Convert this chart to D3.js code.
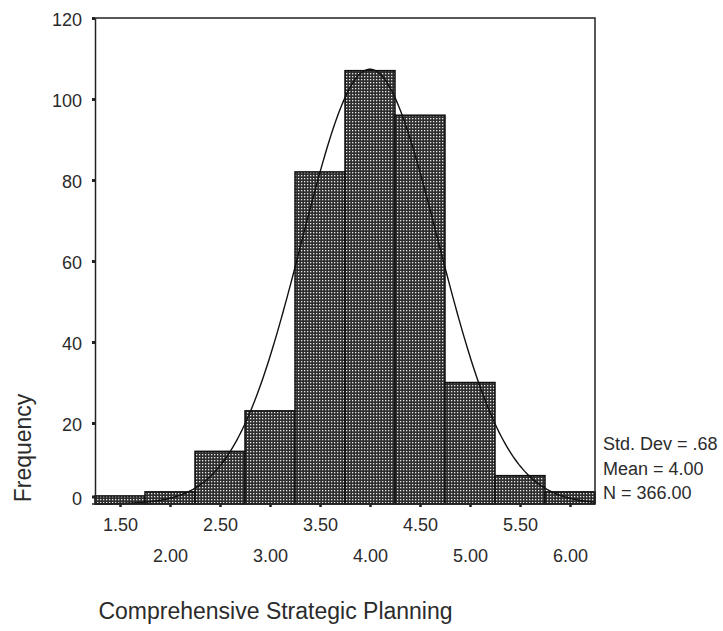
<!DOCTYPE html>
<html>
<head>
<meta charset="utf-8">
<script src="https://cdn.jsdelivr.net/npm/d3@7"></script>
<style>
  html, body { margin: 0; padding: 0; background: #fff; }
  svg { display: block; font-family: "Liberation Sans", Arial, sans-serif; }
</style>
</head>
<body>
<svg id="chart" width="723" height="631"></svg>
<script>
// Histogram bins (centre of each 0.5-wide bin) and their frequencies
const binCenters = [1.5, 2.0, 2.5, 3.0, 3.5, 4.0, 4.5, 5.0, 5.5, 6.0];
const frequencies = [2, 3, 13, 23, 82, 107, 96, 30, 7, 3];
const binWidth = 0.5;

// Axis ticks
const yTicks = [0, 20, 40, 60, 80, 100, 120];
const xTickLabels = ["1.50", "2.00", "2.50", "3.00", "3.50", "4.00", "4.50", "5.00", "5.50", "6.00"];

// Summary statistics shown in the legend
const stdDev = 0.68;
const mean = 4.00;
const nCases = 366;
const statLabels = ["Std. Dev = .68", "Mean = 4.00", "N = 366.00"];

const xTitle = "Comprehensive Strategic Planning";
const yTitle = "Frequency";

const svg = d3.select("#chart");
const ink = "#222";
const textInk = "#2b2b2b";

const plot = { left: 95, right: 595, top: 18, bottom: 504 };

const x = d3.scaleLinear()
  .domain([binCenters[0] - binWidth / 2, binCenters[binCenters.length - 1] + binWidth / 2])
  .range([plot.left, plot.right]);
const y = d3.scaleLinear().domain([0, 120]).range([plot.bottom, plot.top]);

// Dotted fill used by the bars
const defs = svg.append("defs");
const pat = defs.append("pattern")
  .attr("id", "dots")
  .attr("patternUnits", "userSpaceOnUse")
  .attr("width", 3).attr("height", 3);
pat.append("rect").attr("width", 3).attr("height", 3).attr("fill", "#2e2e2e");
pat.append("rect").attr("x", 1).attr("y", 1).attr("width", 1.3).attr("height", 1.3).attr("fill", "#e8e8e8");

// Bars
svg.append("g").selectAll("rect")
  .data(binCenters.map((c, i) => ({ c, f: frequencies[i] })))
  .join("rect")
  .attr("x", d => x(d.c - binWidth / 2))
  .attr("width", d => x(d.c + binWidth / 2) - x(d.c - binWidth / 2))
  .attr("y", d => y(d.f))
  .attr("height", d => y(0) - y(d.f))
  .attr("fill", "url(#dots)")
  .attr("stroke", "#111")
  .attr("stroke-width", 1.5);

// Normal curve from the stated mean, standard deviation and N
const dens = v => nCases * binWidth / (stdDev * Math.sqrt(2 * Math.PI)) *
  Math.exp(-0.5 * Math.pow((v - mean) / stdDev, 2));
const xs = d3.range(x.domain()[0], x.domain()[1] + 1e-9, 0.02);
svg.append("path")
  .datum(xs)
  .attr("fill", "none")
  .attr("stroke", "#111")
  .attr("stroke-width", 1.4)
  .attr("d", d3.line().x(v => x(v)).y(v => y(dens(v))));

// Frame: top and right edges
svg.append("path")
  .attr("d", `M${plot.left},${plot.top}H${plot.right}V${plot.bottom}`)
  .attr("fill", "none").attr("stroke", ink).attr("stroke-width", 1.5);

// Y axis
const yAxis = svg.append("g")
  .attr("transform", `translate(${plot.left},0)`)
  .call(d3.axisLeft(y).tickValues(yTicks).tickSize(3).tickSizeOuter(0).tickPadding(10));
yAxis.select(".domain").attr("stroke", ink).attr("stroke-width", 1.5);
yAxis.selectAll(".tick line").attr("stroke", ink).attr("stroke-width", 3);
yAxis.selectAll(".tick text")
  .attr("font-size", 18).attr("fill", textInk).attr("dy", "0.42em");
// the zero label sits a little above the baseline
yAxis.selectAll(".tick").filter(d => d === 0)
  .attr("transform", `translate(0,${y(0) - 7})`);

// X axis with labels on two alternating rows
const xAxis = svg.append("g")
  .attr("transform", `translate(0,${plot.bottom})`)
  .call(d3.axisBottom(x).tickValues(binCenters).tickSize(3).tickSizeOuter(0)
    .tickFormat((d, i) => xTickLabels[i]));
xAxis.select(".domain").attr("stroke", ink).attr("stroke-width", 1.5)
  .attr("d", `M${plot.left - 3},0H${plot.right}`);
xAxis.selectAll(".tick line").attr("stroke", ink).attr("stroke-width", 2.5);
xAxis.selectAll(".tick text")
  .attr("font-size", 18).attr("fill", textInk)
  .attr("dy", 0)
  .attr("y", (d, i) => i % 2 === 0 ? 27 : 57.5);

// Statistics legend
svg.append("g").selectAll("text")
  .data(statLabels)
  .join("text")
  .attr("x", 603)
  .attr("y", (d, i) => 450 + i * 24.7)
  .attr("font-size", 18)
  .attr("fill", textInk)
  .text(d => d);

// Axis titles
svg.append("text")
  .attr("x", 275.5).attr("y", 619)
  .attr("text-anchor", "middle")
  .attr("font-size", 23).attr("fill", textInk)
  .text(xTitle);

svg.append("text")
  .attr("transform", "translate(31,448) rotate(-90)")
  .attr("text-anchor", "middle")
  .attr("font-size", 23).attr("fill", textInk)
  .text(yTitle);
</script>
</body>
</html>
